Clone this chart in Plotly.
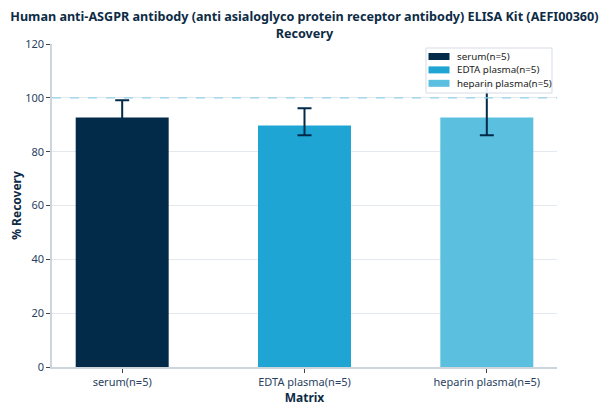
import plotly.graph_objects as go

# data
categories = ['serum(n=5)', 'EDTA plasma(n=5)', 'heparin plasma(n=5)']
recovery = [92.7, 89.7, 92.7]
err_plus = [6.4, 6.4, 12.0]
err_minus = [6.4, 3.6, 6.6]
colors = ['#022b4a', '#1fa5d3', '#5bbfdf']

# page body has an 8px margin, so the figure is drawn 8px in from the window corner
OFF = 8
W, H = 600, 401
L, R, T, B = 44, 51, 36, 42


def px(x, y):
    # window pixel position -> paper coordinates
    x, y = x - OFF, y - OFF
    return (x - L) / (W - L - R), (H - B - y) / (H - T - B)


fig = go.Figure()
for i, cat in enumerate(categories):
    fig.add_trace(go.Bar(x=[cat], y=[recovery[i]], name=cat, width=0.51,
                         marker=dict(color=colors[i], line=dict(width=0)),
                         error_y=dict(type='data', symmetric=False,
                                      array=[err_plus[i]], arrayminus=[err_minus[i]],
                                      color='#022b4a', thickness=2, width=7)))

fig.add_hline(y=100, line_dash='dash', line=dict(width=1.2), line_color='#94d2ea')

# legend box drawn by hand to get the compact look
x0, y0 = px(426, 48)
x1, y1 = px(552, 93)
fig.add_shape(type='rect', xref='paper', yref='paper', x0=x0, y0=y1, x1=x1, y1=y0,
              line=dict(color='#d5dde5', width=1), fillcolor='rgba(255,255,255,0.92)', layer='above')
for i, cat in enumerate(categories):
    yc = 56.5 + i * 13.4
    sx0, sy0 = px(428.5, yc - 3.5)
    sx1, sy1 = px(449.5, yc + 3.5)
    fig.add_shape(type='rect', xref='paper', yref='paper', x0=sx0, y0=sy1, x1=sx1, y1=sy0,
                  line=dict(width=0), fillcolor=colors[i], layer='above')
    tx, ty = px(455, yc)
    fig.add_annotation(text=cat, xref='paper', yref='paper', x=tx, y=ty,
                       xanchor='left', yanchor='middle', showarrow=False,
                       font=dict(size=9.8, color='#222'))

fig.update_layout(
    title=dict(text='<b>Human anti-ASGPR antibody (anti asialoglyco protein receptor antibody) ELISA Kit (AEFI00360)<br>Recovery</b>',
               x=0.494, xanchor='center', y=0.967, yanchor='top', automargin=False,
               font=dict(family='Noto Sans', size=12.6, color='#0d2b45')),
    barmode='overlay',
    width=W, height=H,
    margin=dict(l=L, r=R, t=T, b=B),
    plot_bgcolor='white', paper_bgcolor='white',
    font=dict(family='Noto Sans', size=11, color='#2a3f5f'),
    showlegend=False,
)

fig.update_xaxes(title_text='<b>Matrix</b>', title_font=dict(size=12, color='#0d2b45'),
                 title_standoff=1, automargin=False, range=[-0.385, 2.385],
                 showline=True, linecolor='#ccd4dc', linewidth=1.5,
                 ticks='outside', ticklen=4, tickcolor='#444', tickfont=dict(size=11))
fig.update_yaxes(title_text='<b>% Recovery</b>', title_font=dict(size=12, color='#0d2b45'),
                 title_standoff=1, automargin=False,
                 range=[0, 120], dtick=20,
                 showline=True, linecolor='#ccd4dc', linewidth=1.5,
                 gridcolor='#e3e9ee', zeroline=False,
                 ticks='outside', ticklen=4, tickcolor='#444', tickfont=dict(size=11))

fig.write_html("out.html")
